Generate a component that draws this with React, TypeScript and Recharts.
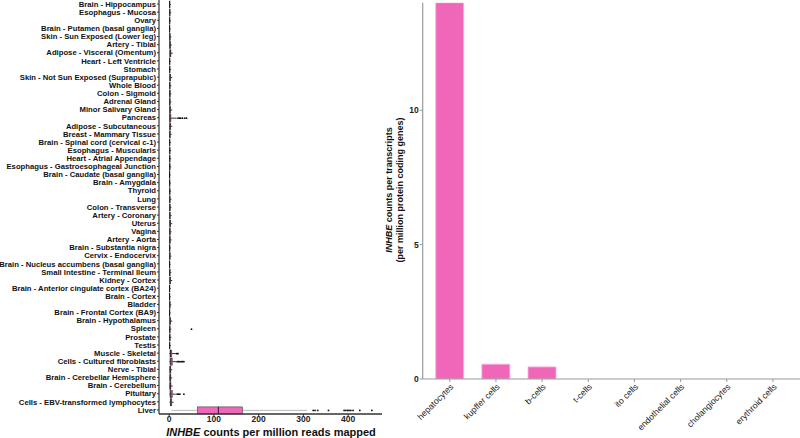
import React from "react";
import { Bar, BarChart, ComposedChart, XAxis, YAxis } from "recharts";

const tissues = [
  "Brain - Hippocampus",
  "Esophagus - Mucosa",
  "Ovary",
  "Brain - Putamen (basal ganglia)",
  "Skin - Sun Exposed (Lower leg)",
  "Artery - Tibial",
  "Adipose - Visceral (Omentum)",
  "Heart - Left Ventricle",
  "Stomach",
  "Skin - Not Sun Exposed (Suprapubic)",
  "Whole Blood",
  "Colon - Sigmoid",
  "Adrenal Gland",
  "Minor Salivary Gland",
  "Pancreas",
  "Adipose - Subcutaneous",
  "Breast - Mammary Tissue",
  "Brain - Spinal cord (cervical c-1)",
  "Esophagus - Muscularis",
  "Heart - Atrial Appendage",
  "Esophagus - Gastroesophageal Junction",
  "Brain - Caudate (basal ganglia)",
  "Brain - Amygdala",
  "Thyroid",
  "Lung",
  "Colon - Transverse",
  "Artery - Coronary",
  "Uterus",
  "Vagina",
  "Artery - Aorta",
  "Brain - Substantia nigra",
  "Cervix - Endocervix",
  "Brain - Nucleus accumbens (basal ganglia)",
  "Small Intestine - Terminal Ileum",
  "Kidney - Cortex",
  "Brain - Anterior cingulate cortex (BA24)",
  "Brain - Cortex",
  "Bladder",
  "Brain - Frontal Cortex (BA9)",
  "Brain - Hypothalamus",
  "Spleen",
  "Prostate",
  "Testis",
  "Muscle - Skeletal",
  "Cells - Cultured fibroblasts",
  "Nerve - Tibial",
  "Brain - Cerebellar Hemisphere",
  "Brain - Cerebellum",
  "Pituitary",
  "Cells - EBV-transformed lymphocytes",
  "Liver",
];

const whiskerLow = [
  0, 0, 0, 0, 0, 0, 0.3, 0, 0, 0.3, 0, 0, 0, 0.3, 0.2, 0.3, 0, 0, 0, 0, 0, 0, 0, 0, 0, 0,
  0, 0.3, 0, 0, 0, 0, 0, 0, 0.3, 0, 0, 0, 0, 0.3, 0, 0, 0, 0.5, 0.5, 0.5, 0.5, 0.5, 0.5, 1, 5,
];
const boxLow = [
  0.8, 1, 0.8, 0.7, 1, 1.2, 1.5, 0.8, 0.8, 1.3, 1, 1, 1, 1.2, 1, 1.3, 1, 0.8, 0.9, 0.9, 0.9,
  0.7, 0.8, 0.9, 1, 1, 1, 1.3, 1, 1, 0.8, 1, 0.7, 1, 1.3, 0.7, 0.7, 1, 0.7, 1.3, 1, 1, 0.8, 2,
  2, 1.5, 1.5, 1.5, 2, 2.5, 63,
];
const medians = [
  1.2, 1.5, 1.2, 1.1, 1.6, 2, 2.5, 1.2, 1.3, 2.2, 1.5, 1.6, 1.5, 2, 2, 2.2, 1.6, 1.2, 1.4, 1.4,
  1.4, 1.1, 1.2, 1.4, 1.5, 1.6, 1.6, 2.2, 1.6, 1.6, 1.2, 1.5, 1.1, 1.5, 2.2, 1.1, 1.1, 1.5, 1.1,
  2.2, 1.5, 1.5, 1.2, 3.5, 4, 2.5, 2.5, 2.5, 4, 4, 110,
];
const boxHigh = [
  1.8, 2, 1.8, 1.6, 2.3, 3, 4, 1.8, 2, 3.4, 2.2, 2.4, 2.2, 3.2, 4, 3.4, 2.5, 1.8, 2, 2, 2, 1.6,
  1.8, 2, 2.2, 2.4, 2.4, 3.4, 2.4, 2.4, 1.8, 2.2, 1.6, 2.2, 3.4, 1.6, 1.6, 2.2, 1.6, 3.4, 2.2,
  2.2, 1.8, 6, 7, 3.8, 3.8, 4, 7, 6, 164,
];
const whiskerHigh = [
  4, 4.5, 4, 3.5, 5, 6, 8, 4, 4.5, 7, 5, 5, 5, 7, 17, 7, 5.5, 4, 4.5, 4.5, 4.5, 3.5, 4, 4.5, 5,
  5, 5.5, 7, 5.5, 5.5, 4, 5, 3.5, 5, 7, 3.5, 3.5, 5, 3.5, 7, 5, 5, 4, 14, 16, 7, 7, 8, 15, 10,
  308,
];
const outliers: Record<string, number[]> = {
  Pancreas: [20, 23, 26, 30, 35, 39],
  Spleen: [50],
  "Muscle - Skeletal": [16, 18, 20],
  "Cells - Cultured fibroblasts": [18, 21, 24, 27, 30, 33],
  Pituitary: [18, 21, 24, 33],
  Liver: [322, 326, 332, 356, 391, 395, 399, 402, 406, 411, 426, 453],
};
const lightWhiskers = ["Liver"];

const cellTypes = [
  "hepatocytes",
  "kupffer cells",
  "b-cells",
  "t-cells",
  "ito cells",
  "endothelial cells",
  "cholangiocytes",
  "erythroid cells",
];
const cellCounts = [14.0, 0.55, 0.45, 0, 0, 0, 0, 0];

const tissueTicks = [0, 100, 200, 300, 400];
const cellTicks = [0, 5, 10];

const boxRows = tissues.map((tissue, i) => ({
  tissue,
  lo: whiskerLow[i],
  q1: boxLow[i],
  med: medians[i],
  q3: boxHigh[i],
  hi: Math.max(whiskerHigh[i], ...(outliers[tissue] || [])),
  wHi: whiskerHigh[i],
  out: outliers[tissue] || [],
}));

const cellRows = cellTypes.map((cell, i) => ({ cell, value: cellCounts[i] }));

const PINK = "#F067BA";
const FONT = "'Liberation Sans', Arial, Helvetica, sans-serif";

function BoxShape(props: any) {
  const { x, y, width, height, payload } = props;
  const k = width / (payload.hi - payload.lo);
  const px = (v: number) => x + (v - payload.lo) * k;
  const cy = y + height / 2;
  const wColor = lightWhiskers.includes(payload.tissue) ? "#b8b8b8" : "#333";
  return (
    <g>
      <line x1={px(payload.lo)} x2={px(payload.q1)} y1={cy} y2={cy} stroke={wColor} strokeWidth={1} />
      <line x1={px(payload.q3)} x2={px(payload.wHi)} y1={cy} y2={cy} stroke={wColor} strokeWidth={1} />
      <rect
        x={px(payload.q1)}
        y={y}
        width={px(payload.q3) - px(payload.q1)}
        height={height}
        fill={PINK}
        stroke="#444"
        strokeWidth={0.6}
      />
      <line x1={px(payload.med)} x2={px(payload.med)} y1={y} y2={y + height} stroke="#111" strokeWidth={0.9} />
      {payload.out.map((v: number, j: number) => (
        <circle key={j} cx={px(v)} cy={cy} r={0.9} fill="#111" />
      ))}
    </g>
  );
}

function TissueTick(props: any) {
  const { x, y, payload } = props;
  return (
    <text
      x={x}
      y={y}
      dy="0.35em"
      textAnchor="end"
      fontSize={7.7}
      fontWeight="bold"
      fontFamily={FONT}
      fill="#111"
    >
      {payload.value}
    </text>
  );
}

function CellTick(props: any) {
  const { x, y, payload } = props;
  return (
    <g transform={`translate(${x},${y})`}>
      <text
        x={0}
        y={0}
        dy="0.7em"
        textAnchor="end"
        transform="rotate(-45)"
        fontSize={8.7}
        fontFamily={FONT}
        fill="#222"
      >
        {payload.value}
      </text>
    </g>
  );
}

export default function App() {
  return (
    <div
      style={{
        position: "absolute",
        left: 0,
        top: 0,
        width: 800,
        height: 438,
        background: "#fff",
        fontFamily: FONT,
      }}
    >
      <div style={{ position: "absolute", left: 0, top: 0 }}>
        <ComposedChart
          width={400}
          height={438}
          layout="vertical"
          data={boxRows}
          margin={{ top: 0, right: 18, bottom: 0, left: 0 }}
        >
          <XAxis
            type="number"
            domain={[-22.6, 475.6]}
            allowDataOverflow
            ticks={tissueTicks}
            height={24}
            tickSize={2}
            tickMargin={0}
            axisLine={{ stroke: "#333", strokeWidth: 1.4 }}
            tickLine={{ stroke: "#333" }}
            tick={{ fontSize: 8.5, fontWeight: "bold", fill: "#222", fontFamily: FONT }}
          />
          <YAxis
            type="category"
            dataKey="tissue"
            width={159}
            interval={0}
            tickSize={2}
            tickMargin={1}
            axisLine={{ stroke: "#333", strokeWidth: 1.2 }}
            tickLine={{ stroke: "#333" }}
            tick={<TissueTick />}
          />
          <Bar
            dataKey={(d: any) => [d.lo, d.hi]}
            barSize={7}
            shape={BoxShape}
            isAnimationActive={false}
          />
        </ComposedChart>
      </div>
      <div style={{ position: "absolute", left: 360, top: 0 }}>
        <BarChart
          width={440}
          height={438}
          data={cellRows}
          margin={{ top: 2.7, right: 0, bottom: 0, left: 0 }}
        >
          <XAxis
            dataKey="cell"
            height={59}
            interval={0}
            padding={{ left: 4, right: 4 }}
            tickSize={3}
            tickMargin={1}
            axisLine={{ stroke: "#999", strokeWidth: 1.2 }}
            tickLine={{ stroke: "#999" }}
            tick={<CellTick />}
          />
          <YAxis
            type="number"
            domain={[0, 14]}
            allowDataOverflow
            ticks={cellTicks}
            width={62.7}
            tickSize={3}
            tickMargin={1}
            axisLine={{ stroke: "#999", strokeWidth: 1.2 }}
            tickLine={{ stroke: "#999" }}
            tick={{ fontSize: 8.5, fontWeight: "bold", fill: "#222", fontFamily: FONT }}
          />
          <Bar
            dataKey="value"
            barSize={28}
            fill={PINK}
            stroke="#f8b4dc"
            strokeWidth={0.8}
            isAnimationActive={false}
          />
        </BarChart>
      </div>
      <svg
        width={800}
        height={438}
        style={{ position: "absolute", left: 0, top: 0, pointerEvents: "none" }}
      >
        <text x={271} y={436} textAnchor="middle" fontSize={11} fontWeight="bold" fontFamily={FONT} fill="#111">
          <tspan fontStyle="italic">INHBE</tspan> counts per million reads mapped
        </text>
        <text
          transform="translate(391.5,190) rotate(-90)"
          textAnchor="middle"
          fontSize={9}
          fontWeight="bold"
          fontFamily={FONT}
          fill="#111"
        >
          <tspan fontStyle="italic">INHBE</tspan> counts per transcripts
        </text>
        <text
          transform="translate(402.8,190) rotate(-90)"
          textAnchor="middle"
          fontSize={9}
          fontWeight="bold"
          fontFamily={FONT}
          fill="#111"
        >
          (per million protein coding genes)
        </text>
      </svg>
    </div>
  );
}
